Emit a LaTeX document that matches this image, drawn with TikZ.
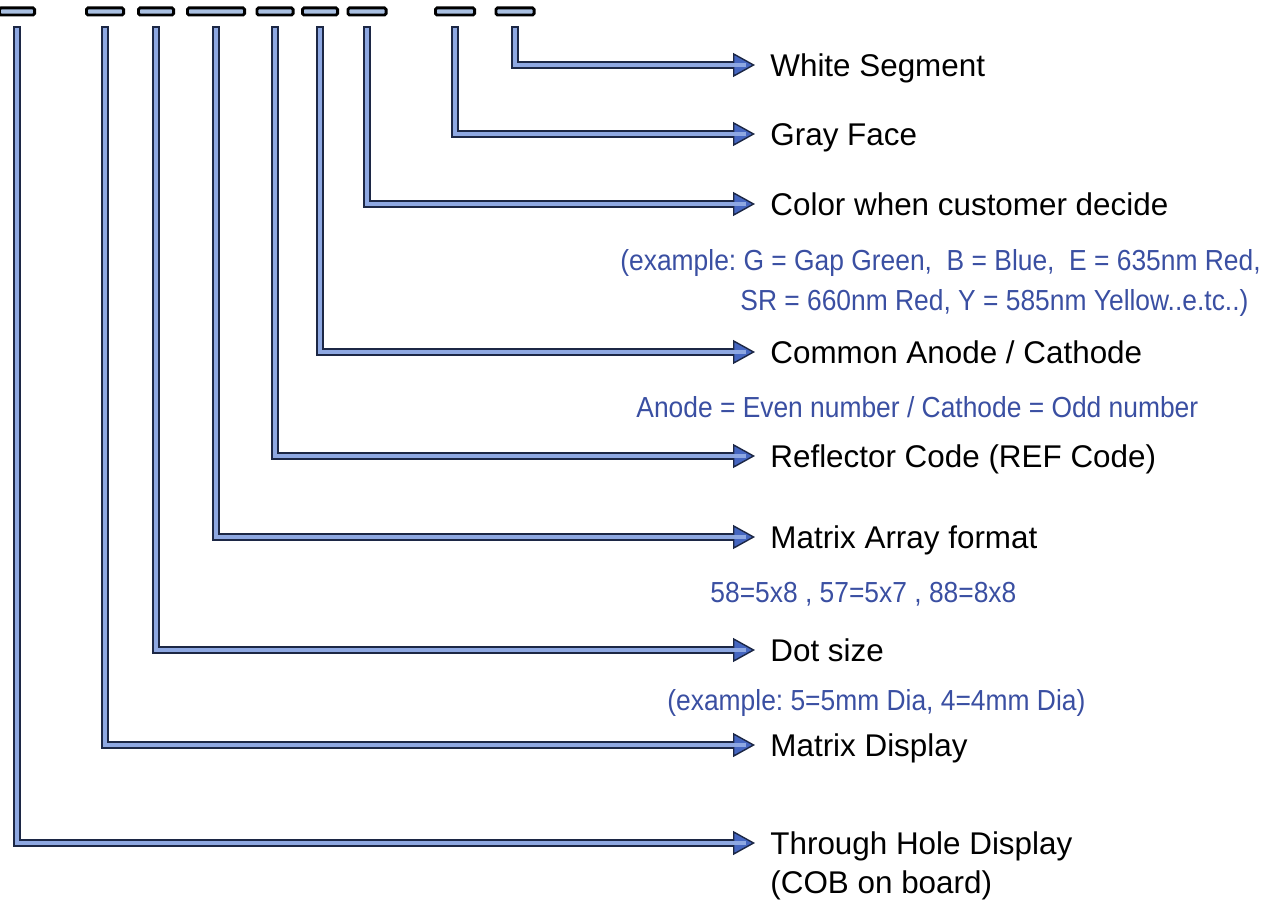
\documentclass[tikz,border=0pt]{standalone}
\usepackage{fontspec}
\setmainfont{Liberation Sans}
\newfontfamily\notefont[FakeStretch=0.91]{Liberation Sans}
\usepackage{xcolor}
\usepackage{tikz}
\usetikzlibrary{arrows.meta,positioning}
\definecolor{navyline}{HTML}{1C2745}
\definecolor{lightline}{HTML}{8EA8E2}
\definecolor{tipblue}{HTML}{4566C0}
\definecolor{noteblue}{HTML}{3A4FA2}
\definecolor{codefill}{HTML}{A9C0E2}
\frenchspacing
\tikzset{
  code diagram/.style={
    x=0.5pt,
    y=-0.5pt,
    line join=miter
  },
  codebox/.style={
    draw=black,
    line width=1.4pt,
    fill=codefill,
    rounded corners=0.8pt,
    minimum height=3.6pt,
    inner sep=0pt
  },
  partlabel/.style={
    anchor=west,
    inner sep=0pt,
    text height=11.2pt,
    text depth=0pt,
    text=black,
    font=\fontsize{15.7pt}{19pt}\selectfont
  },
  notelabel/.style={
    anchor=west,
    inner sep=0pt,
    text height=10.4pt,
    text depth=0pt,
    text=noteblue,
    font=\notefont\fontsize{14.5pt}{18pt}\selectfont
  },
  codearrow/.style={
    draw=navyline,
    line width=3.6pt,
    -{Triangle[length=11pt,width=12pt,line width=0.7pt,fill=tipblue]},
    shorten <=5pt,
    shorten >=7.5pt,
    postaction={draw=lightline, line width=1.6pt, -, shorten <=6pt, shorten >=12pt}
  }
}
\begin{document}
\begin{tikzpicture}[code diagram]
\useasboundingbox (0,0) rectangle (1272,899);

% code boxes along the top
\node[codebox, minimum width=17.6pt] (bhole) at (17,11.5) {};
\node[codebox, minimum width=18.6pt] (bmatrix) at (105,11.5) {};
\node[codebox, minimum width=17.6pt] (bdot) at (156,11.5) {};
\node[codebox, minimum width=28.6pt] (barray) at (216,11.5) {};
\node[codebox, minimum width=18.1pt] (brefl) at (275,11.5) {};
\node[codebox, minimum width=17.6pt] (bcommon) at (320,11.5) {};
\node[codebox, minimum width=19.1pt] (bcolor) at (367,11.5) {};
\node[codebox, minimum width=19.6pt] (bface) at (455,11.5) {};
\node[codebox, minimum width=19.1pt] (bwhite) at (515,11.5) {};

% labels
\node[partlabel] (white) at (770,65) {White Segment};
\node[partlabel] (face) at (770,134) {Gray Face};
\node[partlabel] (color) at (770,204) {Color when customer decide};
\node[notelabel] (colornote) at (620,260) {(example: G = Gap Green,\ \ B = Blue,\ \ E = 635nm Red,};
\node[notelabel] (colornotetwo) at (740,300) {SR = 660nm Red, Y = 585nm Yellow..e.tc..)};
\node[partlabel] (common) at (770,352) {Common Anode / Cathode};
\node[notelabel] (commonnote) at (636,407) {Anode = Even number / Cathode = Odd number};
\node[partlabel] (refl) at (770,456) {Reflector Code (REF Code)};
\node[partlabel] (array) at (770,537) {Matrix Array format};
\node[notelabel] (arraynote) at (710,592) {58=5x8 , 57=5x7 , 88=8x8};
\node[partlabel] (dot) at (770,650) {Dot size};
\node[notelabel] (dotnote) at (667,700) {(example: 5=5mm Dia, 4=4mm Dia)};
\node[partlabel] (matrix) at (770,745) {Matrix Display};
\node[partlabel] (hole) at (770,843) {Through Hole Display};
\node[partlabel] (cob) at (770,882) {(COB on board)};

% connectors
\draw[codearrow] (bwhite.south) |- (white.west);
\draw[codearrow] (bface.south) |- (face.west);
\draw[codearrow] (bcolor.south) |- (color.west);
\draw[codearrow] (bcommon.south) |- (common.west);
\draw[codearrow] (brefl.south) |- (refl.west);
\draw[codearrow] (barray.south) |- (array.west);
\draw[codearrow] (bdot.south) |- (dot.west);
\draw[codearrow] (bmatrix.south) |- (matrix.west);
\draw[codearrow] (bhole.south) |- (hole.west);
\end{tikzpicture}
\end{document}
